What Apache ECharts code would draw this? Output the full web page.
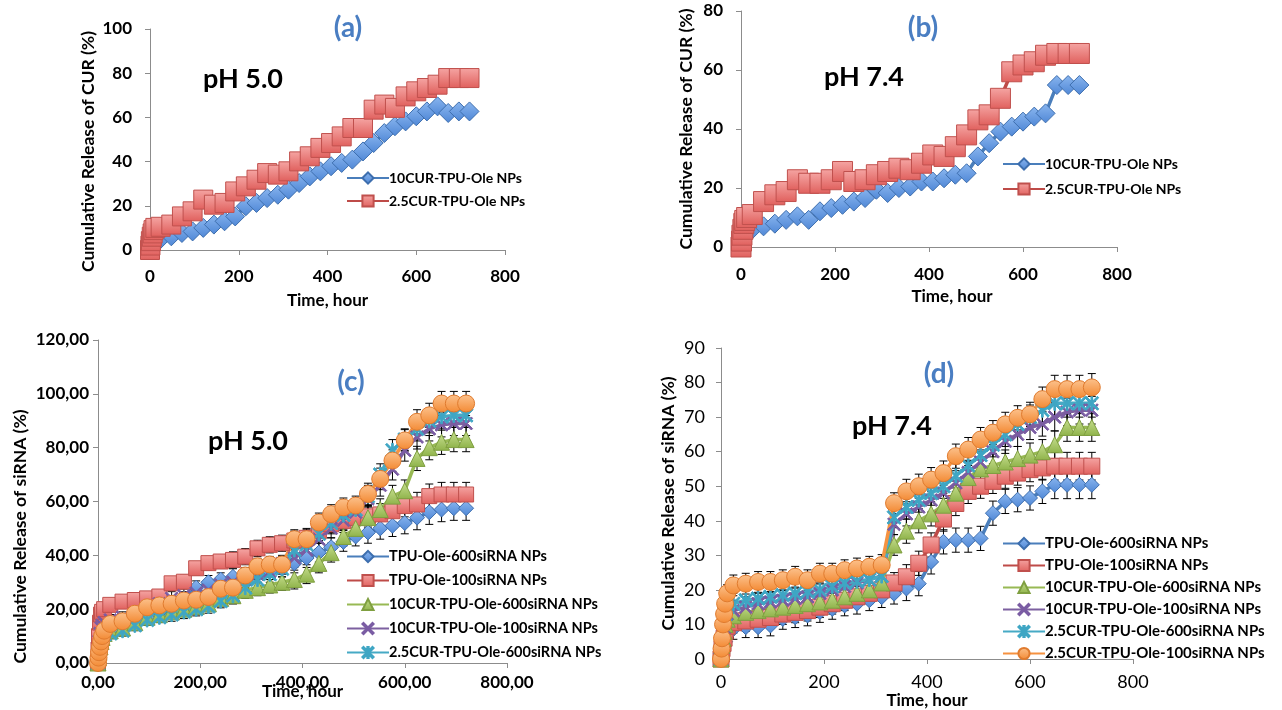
<!DOCTYPE html>
<html><head><meta charset="utf-8">
<script src="https://cdn.jsdelivr.net/npm/echarts@6/dist/echarts.min.js"></script>
<style>html,body{margin:0;padding:0;background:#fff}#c{width:1282px;height:710px}</style>
</head><body><div id="c"></div>
<script>
// ---- time points (hours) ----
const T = [0,1,2,4,6,8,12,24,48,72,96,120,144,168,192,216,240,264,288,312,336,360,384,408,432,456,480,504,528,552,576,600,624,648,672,696,720];
// x tick labels
const X_TICKS = [0,200,400,600,800];

// ---- (a) CUR release, pH 5.0 ----
const A_10CUR = [0,1,2,3,3.5,4,4.5,5,6.2,7.7,8.4,10,11.5,13,15.2,19.8,21.3,23.5,25,27.3,30.3,33.3,35.6,37.9,39.4,40.9,44.6,48.4,52.9,56,58.2,60.5,62.7,65,62,62.7,62.7];
const A_25CUR = [0,2,4,6,7.5,9,10,10.5,11.5,15.2,17.5,22.8,20.5,21.3,26.5,28.8,31.8,34.8,34.1,35.6,40.1,42.4,46.2,48.4,51.4,55.2,55.2,63.5,65.8,64.3,69.5,71.8,73.3,74.8,77.8,77.8,77.8];

// ---- (b) CUR release, pH 7.4 ----
const B_10CUR = [0,1,2,3,4,4.5,5,6,7.0,7.9,9.2,10.4,9.2,12.1,13.2,14.3,15.4,16.6,19.4,18.3,20.0,20.5,22.2,22.2,23.3,24.5,25.0,30.7,35.2,39.1,40.8,42.5,44.2,45.3,54.9,54.9,54.9];
const B_25CUR = [0,2,4,6,8,9,10,11,15.4,17.7,18.8,22.8,21.6,21.6,22.8,25.6,22.2,22.8,24.5,25.6,26.7,26.2,28.4,31.2,30.7,34.0,38.0,43.1,44.8,50.4,59.4,61.7,62.8,65.0,65.6,65.6,65.6];

// ---- (c) siRNA release, pH 5.0 ----
const C_TPU600   = [0,2,4,6,8,10,12,12,13,15,17,19,21,24,28,30,31,32,32,33,34,35,37,39,41,43,45,47,48.5,50,51,52,54,56,57,57.5,57.5];
const C_TPU100   = [0,5,10,15,18,19,20,21.6,22.8,23.4,24.0,24.7,29.6,30.2,35.2,37.1,37.7,38.3,39.5,42.6,43.9,44.5,45.5,46.5,49,51.5,52.7,53.9,54.5,55.2,56.4,58.3,58.9,62.0,62.6,62.6,62.6];
const C_10CUR600 = [0,2,4,6,8,9.5,11,12,13,15,17,18,19,20,21,22,24,25,27,28,29,30,31,33,37,41,47,50,54,57,62,64,76,80,82,83,83];
const C_10CUR100 = [0,4,8,11,13,14,15,16,17,18,20,22,24,25,26,27,29,30,31,33,34,37,39,42,46,50,53,56,61,66,72,79,84,87,88.5,89,89];
const C_25CUR600 = [0,2,4,6,8,9.5,10.5,11,12,14,16,17,18,19,20,21,23,25,28,31,33,35,42,44,48,52,55,57,62,70,79,83,87,90,91.5,92,92];
const C_25CUR100 = [0,2,4,6,8,10,12,14.5,15.5,18.3,20.7,21.4,22,23.2,23.5,24.5,27.6,28,32.5,35.9,36.6,36.6,46,46,52.2,55.3,57.8,58.5,62.8,68.4,75.2,82.7,89.6,92,96.4,96.4,96.4];
const C_ERR      = [0,0.5,1,1,1.5,1.5,2,2,2,2,2,2,2.5,2.5,2.5,2.5,2.5,3,3,3,3,3,3.5,3.5,3.5,3.5,3.5,3.5,4,4,4,4,4.5,4.5,4.5,4.5,4.5];

// ---- (d) siRNA release, pH 7.4 ----
const D_TPU600   = [0,1,2,3,4,5,7,8.7,9.2,9.2,9.7,11.6,12.1,12.6,13.6,14.5,15.5,16.0,17.0,17.9,18.9,20.4,21.8,28.1,33.9,34.4,34.4,34.9,42.2,45.6,46.1,46.6,48.5,50.4,50.4,50.4,50.4];
const D_TPU100   = [0,1.5,3,4.5,6,8,9.5,10.5,11,11.5,12,13,13.5,14,15,16,17,18,19,20,22,23.8,27.7,33,40.5,45,48.5,50,51.4,52.9,53.8,54.8,55.3,55.8,55.8,55.8,55.8];
const D_10CUR600 = [0,2,4,6,8,10,11.5,12.5,13.5,14,14.5,15,15.5,16,16.5,17,18,19,20,22,33,37,40,42,44.5,48,52.5,55,56,57,58,59,60,62,67,67,67];
const D_10CUR100 = [0,2,4,7,9,11,13,14,15,16,16.5,17,17.5,18,19,20,21,22,23,24,39,42,44,46,48,51,54,57,60,63,65,67,68,70,71.5,72,72];
const D_25CUR600 = [0,2.5,5,8,11,13,15,16,17,17.5,18,18.5,19,19.5,20,21,22,22.5,23,24,41,44,46,48,50,53,56,59,62,65,68,70,72,74,74,74,74];
const D_25CUR100 = [0,3,6,10,13,16,19,21.3,21.8,22.3,22.3,22.8,23.8,22.8,24.7,24.7,25.7,26.2,26.7,27.2,45.1,48.5,50,51.9,53.8,58.7,60.6,63.5,65.5,67.9,69.8,70.8,75.2,78.1,78.1,78.1,78.6];
const D_ERR      = [0,0.5,1,1,1.5,2,2.5,3,3,3,3,3,3,3,3,3,3,3,3,3,3,3.5,3.5,3.5,3.5,3.5,3.5,3.5,3.5,3.5,3.5,3.5,3.5,4,4,4,4];

// ---- names ----
const CUR_NAMES = ['10CUR-TPU-Ole NPs','2.5CUR-TPU-Ole NPs'];
const SI_NAMES = ['TPU-Ole-600siRNA NPs','TPU-Ole-100siRNA NPs','10CUR-TPU-Ole-600siRNA NPs','10CUR-TPU-Ole-100siRNA NPs','2.5CUR-TPU-Ole-600siRNA NPs','2.5CUR-TPU-Ole-100siRNA NPs'];

const FONT = 'Lato, "Open Sans", sans-serif';
function grad(a,b){return {type:'linear',x:0,y:0,x2:0,y2:1,colorStops:[{offset:0,color:a},{offset:1,color:b}]};}
const SYM_X = 'path://M1,0 L5,4 L9,0 L10,1 L6,5 L10,9 L9,10 L5,6 L1,10 L0,9 L4,5 L0,1 Z';
const SYM_STAR = 'path://M1,0 L5,4 L9,0 L10,1 L6,5 L10,9 L9,10 L5,6 L1,10 L0,9 L4,5 L0,1 Z M4.4,0 L5.6,0 L5.6,10 L4.4,10 Z';
const ST = {
  blue:   {symbol:'diamond', line:'#4a7ebb', fill:grad('#8ab6ef','#4f87d6'), border:'#3d6eae'},
  red:    {symbol:'rect',    line:'#be4b48', fill:grad('#f5a5a3','#e0605d'), border:'#c0504d'},
  green:  {symbol:'triangle',line:'#98b954', fill:grad('#c6de8f','#8fb34a'), border:'#7f9f40'},
  purple: {symbol:SYM_X,     line:'#7d60a0', fill:'#7a5ca3', border:'#7a5ca3'},
  cyan:   {symbol:SYM_STAR,  line:'#46aac5', fill:'#3fa6c4', border:'#3fa6c4'},
  orange: {symbol:'circle',  line:'#f69240', fill:grad('#fcc28d','#f38a34'), border:'#e07b2e'}
};

function lineS(name, vals, gi, st, size){
  return {type:'line', name:name, xAxisIndex:gi, yAxisIndex:gi,
    data:T.map((t,i)=>[t, vals[i]]), symbol:st.symbol, symbolSize:size,
    showAllSymbol:true, smooth:false, clip:false, z:3,
    lineStyle:{color:st.line, width:3.5},
    itemStyle:{color:st.fill, borderColor:st.border, borderWidth:1},
    emphasis:{disabled:true}, animation:false};
}
function errRender(params, api){
  const t = api.value(0), v = api.value(1), e = api.value(2);
  const hi = api.coord([t, v + e]);
  const lo = api.coord([t, Math.max(0, v - e)]);
  const hw = 4, s = {stroke:'#000', lineWidth:1};
  return {type:'group', children:[
    {type:'line', shape:{x1:hi[0],y1:hi[1],x2:lo[0],y2:lo[1]}, style:s},
    {type:'line', shape:{x1:hi[0]-hw,y1:hi[1],x2:hi[0]+hw,y2:hi[1]}, style:s},
    {type:'line', shape:{x1:lo[0]-hw,y1:lo[1],x2:lo[0]+hw,y2:lo[1]}, style:s}
  ]};
}
function errS(vals, err, gi){
  return {type:'custom', xAxisIndex:gi, yAxisIndex:gi, silent:true, z:2, animation:false,
    data:T.map((t,i)=>[t, vals[i], err[i]]), encode:{x:0,y:1}, renderItem:errRender};
}

const AX = '#8c8c8c';
function xAx(gi, bold, size, margin, nameGap, namePad){
  return {type:'value', gridIndex:gi, min:0, max:800, interval:200,
    axisLine:{show:true, onZero:false, lineStyle:{color:AX, width:1}},
    axisTick:{show:true, inside:false, length:5, lineStyle:{color:AX}},
    splitLine:{show:false},
    axisLabel:{color:'#000', fontFamily:FONT, fontWeight:bold?'bold':'normal', fontSize:size, margin:margin,
      formatter: gi===2 ? (v)=>v.toFixed(2).replace('.',',') : (v)=>String(v)},
    name:'Time, hour', nameLocation:'middle', nameGap:nameGap, nameMoveOverlap:false,
    nameTextStyle:{color:'#000', fontFamily:FONT, fontWeight:'bold', fontSize:17, padding:namePad||0}};
}
function yAx(gi, max, interval, name, bold, size, margin, nameGap, namePad, fmt){
  return {type:'value', gridIndex:gi, min:0, max:max, interval:interval,
    axisLine:{show:true, onZero:false, lineStyle:{color:AX, width:1}},
    axisTick:{show:true, inside:false, length:5, lineStyle:{color:AX}},
    splitLine:{show:false},
    axisLabel:{color:'#000', fontFamily:FONT, fontWeight:bold?'bold':'normal', fontSize:size, margin:margin,
      formatter: fmt || ((v)=>String(v))},
    name:name, nameLocation:'middle', nameGap:nameGap, nameMoveOverlap:false,
    nameTextStyle:{color:'#000', fontFamily:FONT, fontWeight:'bold', fontSize:17.5, padding:namePad||0}};
}
function legendC(names, left, top, gap, size){
  return {orient:'vertical', left:left, top:top, data:names, itemWidth:42, itemHeight:14, itemGap:gap,
    selectedMode:false,
    textStyle:{color:'#000', fontFamily:FONT, fontWeight:'bold', fontSize:size, padding:[0,0,0,-5]}};
}
function txt(x, y, text, size, color){
  return {type:'text', x:x, y:y, silent:true,
    style:{text:text, fill:color, font:'bold '+size+'px '+FONT, textAlign:'center', textVerticalAlign:'middle'}};
}

const series = [
  lineS(CUR_NAMES[0], A_10CUR, 0, ST.blue, 19),
  lineS(CUR_NAMES[1], A_25CUR, 0, ST.red, 19),
  lineS(CUR_NAMES[0], B_10CUR, 1, ST.blue, 19),
  lineS(CUR_NAMES[1], B_25CUR, 1, ST.red, 20)
];
const C_SETS = [[C_TPU600,ST.blue,15],[C_TPU100,ST.red,15],[C_10CUR600,ST.green,16],[C_10CUR100,ST.purple,13],[C_25CUR600,ST.cyan,14],[C_25CUR100,ST.orange,17]];
const D_SETS = [[D_TPU600,ST.blue,15],[D_TPU100,ST.red,16],[D_10CUR600,ST.green,16],[D_10CUR100,ST.purple,13],[D_25CUR600,ST.cyan,14],[D_25CUR100,ST.orange,17]];
C_SETS.forEach((s,i)=>{ series.push(errS(s[0], C_ERR, 2)); series.push(lineS(SI_NAMES[i], s[0], 2, s[1], s[2])); });
D_SETS.forEach((s,i)=>{ series.push(errS(s[0], D_ERR, 3)); series.push(lineS(SI_NAMES[i], s[0], 3, s[1], s[2])); });

const option = {
  backgroundColor:'#fff',
  animation:false,
  grid:[
    {left:150, top:29, width:355, height:221, outerBoundsMode:'none'},
    {left:741, top:11, width:376, height:236, outerBoundsMode:'none'},
    {left:98,  top:340, width:409, height:323, outerBoundsMode:'none'},
    {left:721, top:348, width:412, height:311, outerBoundsMode:'none'}
  ],
  xAxis:[
    xAx(0, true, 17, 18, 42),
    xAx(1, true, 17, 19, 41, [0,0,0,46]),
    xAx(2, true, 17, 11, 20),
    xAx(3, false, 18, 14, 33)
  ],
  yAxis:[
    yAx(0, 100, 20, 'Cumulative Release of CUR (%)', true, 17, 18, 53, [0,24,0,0]),
    yAx(1, 80, 20, 'Cumulative Release of CUR (%)', true, 17, 18, 46),
    yAx(2, 120, 20, 'Cumulative Release of siRNA (%)', true, 17, 9, 69, [0,70,0,0], (v)=>v.toFixed(2).replace('.',',')),
    yAx(3, 90, 10, 'Cumulative Release of siRNA (%)', false, 18, 16, 44)
  ],
  legend:[
    legendC(CUR_NAMES, 341, 166, 9, 14),
    legendC(CUR_NAMES, 997, 152, 11, 14),
    legendC(SI_NAMES.slice(0,5), 341, 544, 9, 14.5),
    legendC(SI_NAMES, 997, 531, 7, 15)
  ],
  graphic:[
    txt(348, 28, '(a)', 28, '#4a7ec2'),
    txt(923, 28, '(b)', 28, '#4a7ec2'),
    txt(351, 382, '(c)', 28, '#4a7ec2'),
    txt(939, 374, '(d)', 28, '#4a7ec2'),
    txt(243, 79, 'pH 5.0', 27, '#000'),
    txt(864, 77, 'pH 7.4', 27, '#000'),
    txt(248, 441, 'pH 5.0', 27, '#000'),
    txt(892, 426, 'pH 7.4', 27, '#000')
  ],
  series:series
};
const chart = echarts.init(document.getElementById('c'), null, {renderer:'canvas'});
chart.setOption(option);
</script></body></html>
